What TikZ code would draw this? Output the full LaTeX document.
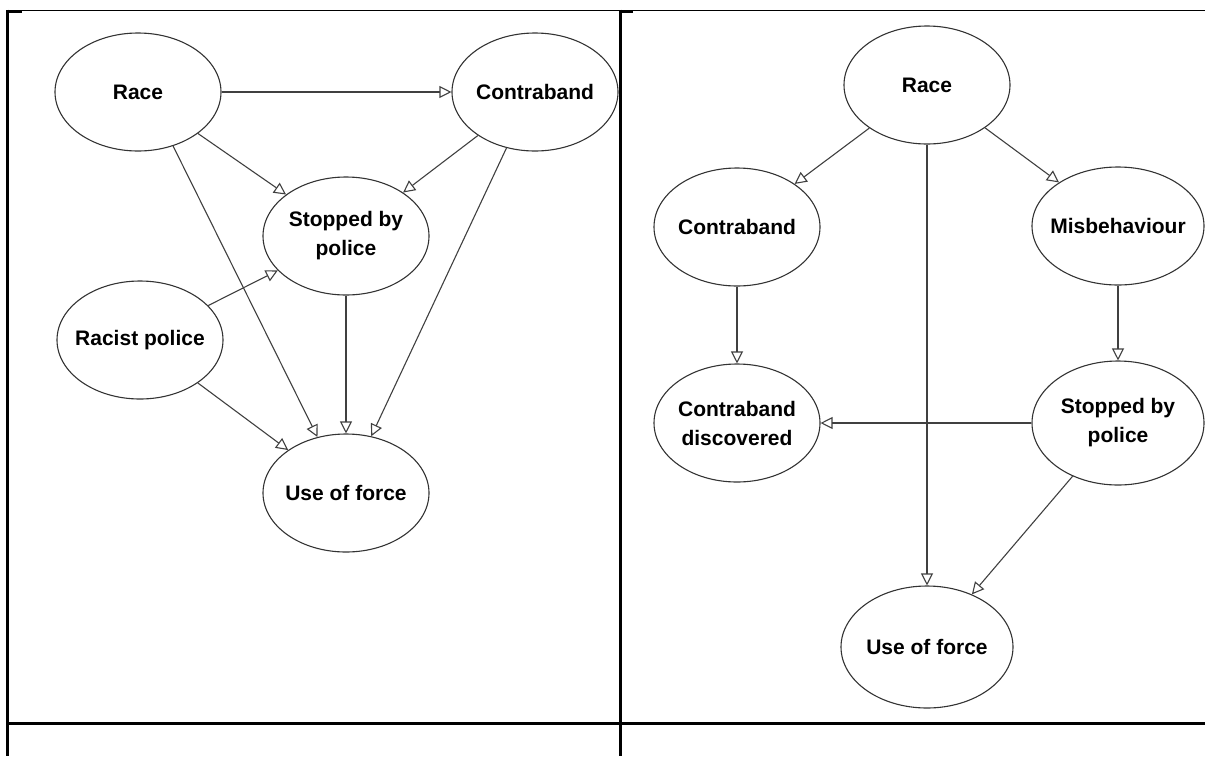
\documentclass[tikz,border=0pt]{standalone}
\usepackage{fontspec}
\setmainfont{Liberation Sans}
\usetikzlibrary{shapes.geometric,arrows.meta}

\begin{document}
\begin{tikzpicture}[x=1pt,y=-1pt,
        var/.style={ellipse,draw=black!80,line width=1.1pt,minimum width=166pt,minimum height=118pt,inner xsep=-30pt,inner ysep=0pt,align=center,font=\fontsize{21}{29}\selectfont\bfseries},
        edge/.style={-{Triangle[open,length=12pt,width=12pt]},draw=black!75,line width=1.1pt},
        rule/.style={line width=3pt}]
        \useasboundingbox (0,0) rectangle (1205,756);
        \clip (0,0) rectangle (1205,756);

        \draw[line width=1.3pt] (7,10.5)--(1205,10.5);
        \draw[rule] (7,11)--(22,11);
        \draw[rule] (620,11)--(633,11);
        \draw[rule] (7.5,9.5)--(7.5,756);
        \draw[rule] (620,9.5)--(620,756);
        \draw[rule] (6,723)--(1205,723);

        \node[var] (race) at (138,92) {Race};
        \node[var] (contra) at (535,92) {Contraband};
        \node[var] (stop) at (346,236) {Stopped by\\police};
        \node[var] (racist) at (140,340) {Racist police};
        \node[var] (use) at (346,493) {Use of force};

        \draw[edge] (race)--(contra);
        \draw[edge] (race)--(stop);
        \draw[edge] (contra)--(stop);
        \draw[edge] (race.-57)--(use.117);
        \draw[edge] (contra.-117)--(use.66);
        \draw[edge] (racist)--(stop);
        \draw[edge] (racist)--(use);
        \draw[edge] (stop)--(use);

        \node[var] (raceR) at (927,85) {Race};
        \node[var] (contraR) at (737,227) {Contraband};
        \node[var,minimum width=172pt] (misb) at (1118,226) {Misbehaviour};
        \node[var] (found) at (737,423) {Contraband\\discovered};
        \node[var,minimum width=172pt,minimum height=124pt] (stopR) at (1118,423) {Stopped by\\police};
        \node[var,minimum width=172pt,minimum height=122pt] (useR) at (927,647) {Use of force};

        \draw[edge] (raceR)--(contraR);
        \draw[edge] (raceR)--(misb);
        \draw[edge] (raceR)--(useR);
        \draw[edge] (contraR)--(found);
        \draw[edge] (misb)--(stopR);
        \draw[edge] (stopR)--(found);
        \draw[edge] (stopR)--(useR);
    \end{tikzpicture}
\end{document}
